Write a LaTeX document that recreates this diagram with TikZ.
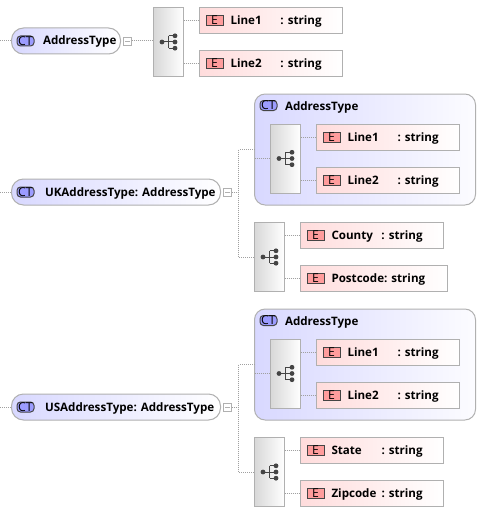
\documentclass[tikz,border=0pt]{standalone}
\usepackage{fontspec}
\setmainfont{Open Sans}
\usetikzlibrary{calc}
\definecolor{edge}{HTML}{B0B0B0}
\definecolor{ctleft}{HTML}{D8D8FF}
\definecolor{elleft}{HTML}{FFDCDC}
\definecolor{seqleft}{HTML}{D8D8D8}
\definecolor{ebadge}{HTML}{FF9C9C}
\definecolor{ctbadge}{HTML}{9C9CFF}
\definecolor{ink}{HTML}{444444}
\definecolor{dotc}{HTML}{A0A0A0}
\newcommand{\nm}{\fontsize{8.7pt}{10pt}\selectfont\bfseries}
\newcommand{\sm}{\fontsize{9.2pt}{10pt}\selectfont}
\newcommand{\tabname}[1]{\makebox[37.5pt][l]{#1}}
\tikzset{
  x=0.75pt,y=-0.75pt,
  box/.style 2 args={inner sep=0pt,outer sep=0pt,minimum width=#1*0.75pt,minimum height=#2*0.75pt,anchor=north west,draw=edge,line width=0.75pt},
  ctnode/.style={rounded corners=9pt,left color=ctleft,right color=white},
  group/.style={rounded corners=8pt,left color=ctleft,right color=white!92!ctleft},
  seqbox/.style={box={30}{69},left color=seqleft,right color=white},
  elem/.style={left color=elleft,right color=white},
  ebadgeS/.style={box={17}{10},fill=ebadge,draw=ink,line width=0.75pt,anchor=center,font=\sm,text=black},
  ctbadgeS/.style={box={17}{10},fill=ctbadge,draw=ink,line width=0.75pt,rounded corners=2.6pt,anchor=center,font=\sm,text=black},
  lbl/.style={inner sep=0pt,outer sep=0pt,anchor=base west,font=\nm,text=black},
  minusbox/.style={box={8}{8},anchor=center,fill=white,line width=0.6pt,path picture={\draw[edge,line width=0.7pt] (path picture bounding box.center)+(-2.5,0)--+(2.5,0);}},
  conn/.style={draw=dotc,line width=0.75pt,dash pattern=on 0.75pt off 0.75pt},
  seqsym/.pic={
    \draw[ink,line width=0.75pt] (-6.5,0)--(6.5,0) (0,-6.2)--(0,6.2) (0,-6.2)--(6.5,-6.2) (0,6.2)--(6.5,6.2);
    \fill[ink] (-6.5,0) circle[radius=2.4] (6.5,-6.2) circle[radius=2.4] (6.5,0) circle[radius=2.4] (6.5,6.2) circle[radius=2.4];
  }
}
% element: name, x, y, width, label
\newcommand{\element}[5]{%
  \node[box={#4}{26},elem] (#1) at (#2,#3) {};
  \node[ebadgeS] (#1b) at (#2+15,#3+13) {E};
  \node[lbl] (#1t) at (#2+31,#3+17.2) {#5};
}
% sequence box with symbol: name, x, y
\newcommand{\seqblock}[3]{%
  \node[seqbox] (#1) at (#2,#3) {};
  \pic at (#1.center) {seqsym};
}
% link from sequence box to element
\newcommand{\seqlink}[2]{\draw[conn] (#1.east |- #2.west) -- (#2.west);}
% the embedded AddressType group: prefix, y
\newcommand{\addressgroup}[2]{%
  \node[box={221}{111},group] (#1g) at (254.5,#2) {};
  \node[ctbadgeS] (#1gb) at (268.5,#2+11.5) {CT};
  \node[lbl] (#1gt) at (285,#2+16.5) {AddressType};
  \seqblock{#1gs}{270.5}{#2+30}
  \element{#1e1}{316.5}{#2+30}{143}{\tabname{Line1}: string}
  \element{#1e2}{316.5}{#2+73}{143}{\tabname{Line2}: string}
  \seqlink{#1gs}{#1e1}
  \seqlink{#1gs}{#1e2}
  \draw[conn] (#1g.west |- #1gs.west) -- (#1gs.west);
}
% a top level type: prefix, y of centre, width, label x, label
\newcommand{\typenode}[5]{%
  \coordinate (#1in) at (0,#2);
  \node[box={#3}{26},ctnode,anchor=west] (#1) at (11.5,#2) {};
  \node[ctbadgeS] (#1b) at (25.5,#2) {CT};
  \node[lbl] (#1t) at (#4,#2+4) {#5};
  \draw[conn] (#1in) -- (#1.west);
  \node[minusbox,xshift=5.25pt] (#1m) at (#1.east) {};
}
\begin{document}
\begin{tikzpicture}
\useasboundingbox (0,0) rectangle (499,517);
\fill[white] (0,0) rectangle (499,517);

% AddressType
\typenode{a}{41}{109}{43}{AddressType}
\seqblock{as}{153.5}{7.5}
\element{ae1}{199.5}{7.5}{143}{\tabname{Line1}: string}
\element{ae2}{199.5}{50.5}{143}{\tabname{Line2}: string}
\draw[conn] (am.east) -- (as.west |- am.east);
\seqlink{as}{ae1}
\seqlink{as}{ae2}

% UKAddressType
\typenode{u}{192}{209}{45}{UKAddressType: AddressType}
\addressgroup{ug}{94}
\seqblock{us}{254.5}{222.5}
\element{ue1}{300.5}{222.5}{143}{\tabname{County}: string}
\element{ue2}{300.5}{265.5}{147}{Postcode: string}
\seqlink{us}{ue1}
\seqlink{us}{ue2}
\coordinate (ubus) at (238.5,192);
\coordinate (ugin) at (ugg.west |- 0,149.5);
\draw[conn] (um.east) -- (ubus);
\draw[conn] (ugin) -- (ubus |- ugin) -- (ubus |- us.west) -- (us.west);

% USAddressType
\typenode{s}{407}{209}{45}{USAddressType: AddressType}
\addressgroup{sg}{309}
\seqblock{ss}{254.5}{437.5}
\element{se1}{300.5}{437.5}{143}{\tabname{State}: string}
\element{se2}{300.5}{480.5}{143}{\tabname{Zipcode}: string}
\seqlink{ss}{se1}
\seqlink{ss}{se2}
\coordinate (sbus) at (238.5,407);
\coordinate (sgin) at (sgg.west |- 0,364.5);
\draw[conn] (sm.east) -- (sbus);
\draw[conn] (sgin) -- (sbus |- sgin) -- (sbus |- ss.west) -- (ss.west);
\end{tikzpicture}
\end{document}
